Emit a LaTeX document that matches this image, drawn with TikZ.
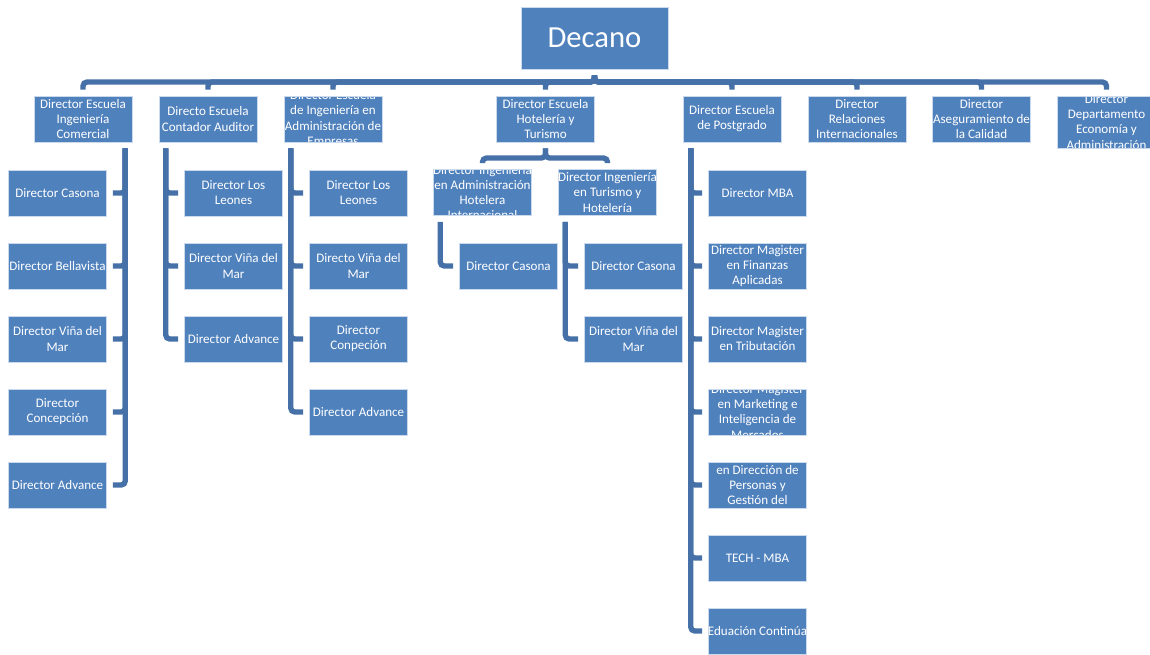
\documentclass[tikz,border=0pt]{standalone}
\usepackage{fontspec}
\setmainfont{Carlito}
\usetikzlibrary{positioning}
\definecolor{boxblue}{HTML}{4F81BD}
\definecolor{linkblue}{HTML}{4571A8}
\tikzset{
  caption/.style={text=white, align=center, inner sep=0pt, anchor=center,
    font=\fontsize{9.8}{11.3}\selectfont},
  unit/.style={rectangle, fill=boxblue, draw=white!70!boxblue, line width=0.4pt,
    minimum width=73.5pt, minimum height=34.5pt, inner sep=0pt,
    path picture={\node[caption] at (path picture bounding box.center) {#1};}},
  head/.style={rectangle, fill=boxblue, draw=white!70!boxblue, line width=0.4pt,
    minimum width=110pt, minimum height=46.5pt, text=white,
    font=\fontsize{23}{27}\selectfont},
  link/.style={draw=linkblue, line width=4pt, rounded corners=3pt,
    shorten <=4.5pt, shorten >=4.5pt},
}

\begin{document}
\begin{tikzpicture}[x=0.75pt, y=-0.75pt, node distance=19.85pt]
  \useasboundingbox (0,0) rectangle (1150,654);

  % Nodes
  \node[head] (dec) at (594.5,38) {Decano};

  \node[unit={Director Escuela\\Ingeniería\\Comercial}] (icom) at (83,119) {};
  \node[unit={Directo Escuela\\Contador Auditor}] (cont) at (208,119) {};
  \node[unit={Director Escuela\\de Ingeniería en\\Administración de\\Empresas}] (iadm) at (333,119) {};
  \node[unit={Director Escuela\\Hotelería y\\Turismo}] (hot) at (545.5,119) {};
  \node[unit={Director Escuela\\de Postgrado}] (post) at (732,119) {};
  \node[unit={Director\\Relaciones\\Internacionales}] (rrii) at (857,119) {};
  \node[unit={Director\\Aseguramiento de\\la Calidad}] (aseg) at (981.5,119) {};
  \node[unit={Director\\Departamento\\Economía y\\Administración}, minimum height=39pt] (depto) at (1106.5,122) {};

  % Ingenieria Comercial
  \node[unit={Director Casona}] (icom1) at (57.5,193) {};
  \node[unit={Director Bellavista}, below=of icom1] (icom2) {};
  \node[unit={Director Viña del\\Mar}, below=of icom2] (icom3) {};
  \node[unit={Director\\Concepción}, below=of icom3] (icom4) {};
  \node[unit={Director Advance}, below=of icom4] (icom5) {};

  % Contador Auditor
  \node[unit={Director Los\\Leones}] (cont1) at (233.5,193) {};
  \node[unit={Director Viña del\\Mar}, below=of cont1] (cont2) {};
  \node[unit={Director Advance}, below=of cont2] (cont3) {};

  % Administracion de Empresas
  \node[unit={Director Los\\Leones}] (iadm1) at (358.5,193) {};
  \node[unit={Directo Viña del\\Mar}, below=of iadm1] (iadm2) {};
  \node[unit={Director\\Conpeción}, below=of iadm2] (iadm3) {};
  \node[unit={Director Advance}, below=of iadm3] (iadm4) {};

  % Hoteleria y Turismo
  \node[unit={Director Ingeniería\\en Administración\\Hotelera\\Internacional}] (hotA) at (482.5,192.5) {};
  \node[unit={Director Ingeniería\\en Turismo y\\Hotelería}] (hotB) at (607.5,192.5) {};
  \node[unit={Director Casona}] (hotA1) at (508.5,266) {};
  \node[unit={Director Casona}] (hotB1) at (633.5,266) {};
  \node[unit={Director Viña del\\Mar}, below=of hotB1] (hotB2) {};

  % Postgrado
  \node[unit={Director MBA}] (post1) at (757.5,193) {};
  \node[unit={Director Magister\\en Finanzas\\Aplicadas}, below=of post1] (post2) {};
  \node[unit={Director Magister\\en Tributación}, below=of post2] (post3) {};
  \node[unit={Director Magister\\en Marketing e\\Inteligencia de\\Mercados}, below=of post3] (post4) {};
  \node[unit={en Dirección de\\Personas y\\Gestión del}, below=of post4] (post5) {};
  \node[unit={TECH - MBA}, below=of post5] (post6) {};
  \node[unit={Eduación Continúa}, below=of post6] (post7) {};

  % Edges
  \foreach \n in {icom,cont,iadm,hot,post,rrii,aseg,depto}
    \draw[link] (dec.south) -- (594.5,82) -| (\n.north);

  \foreach \k in {1,...,5}
    \draw[link] ([xshift=-5.25pt]icom.south east) |- (icom\k.east);
  \foreach \k in {1,...,3}
    \draw[link] ([xshift=5.25pt]cont.south west) |- (cont\k.west);
  \foreach \k in {1,...,4}
    \draw[link] ([xshift=5.25pt]iadm.south west) |- (iadm\k.west);
  \foreach \k in {1,...,7}
    \draw[link] ([xshift=6pt]post.south west) |- (post\k.west);

  \foreach \n in {hotA,hotB}
    \draw[link] (hot.south) -- (545.5,158) -| (\n.north);
  \draw[link] ([xshift=5.25pt]hotA.south west) |- (hotA1.west);
  \foreach \k in {1,2}
    \draw[link] ([xshift=5.25pt]hotB.south west) |- (hotB\k.west);

\end{tikzpicture}
\end{document}
